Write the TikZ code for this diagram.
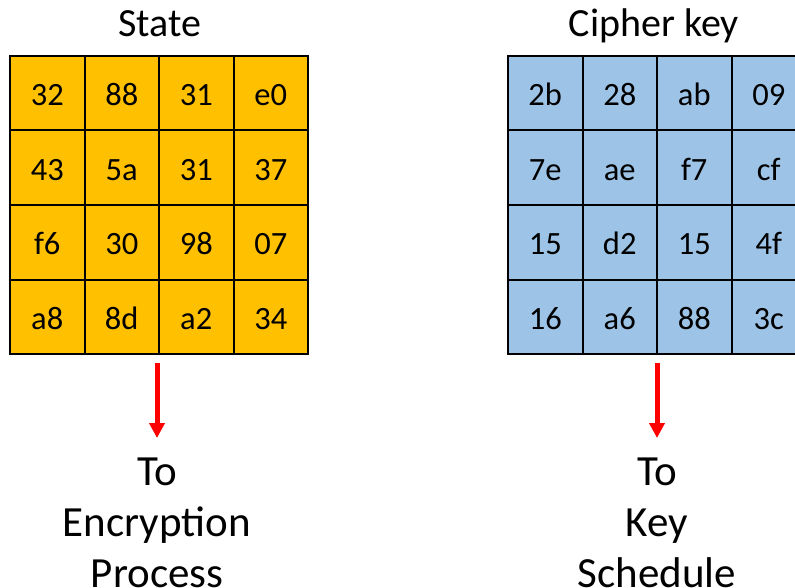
\documentclass[tikz,border=0pt]{standalone}
\usepackage{fontspec}
\setmainfont{Carlito}
\usetikzlibrary{arrows.meta}
\definecolor{stateorange}{HTML}{FFC000}
\definecolor{keyblue}{HTML}{9DC3E6}
\definecolor{arrowred}{HTML}{FF0000}
\begin{document}
\begin{tikzpicture}[x=1pt,y=-1pt,
  cell/.style={draw=black, line width=2pt, minimum size=74.5pt, inner sep=0pt, outer sep=0pt,
    text height=25pt, text depth=0pt, font=\fontsize{32.5}{38}\selectfont},
  statecell/.style={cell, fill=stateorange},
  keycell/.style={cell, fill=keyblue},
  gridborder/.style={draw=black, line width=2.6pt},
  title/.style={font=\fontsize{40}{48}\selectfont, inner sep=0pt, anchor=base},
  dest/.style={font=\fontsize{43}{51}\selectfont, inner sep=0pt, anchor=north, align=center},
  redarrow/.style={draw=arrowred, line width=5pt, -{Triangle[width=15pt,length=15pt]}}
]
\useasboundingbox (0,0) rectangle (795,588);
\clip (0,0) rectangle (795,588);

% titles
\node[title] (statetitle) at (160,37) {State};
\node[title] (keytitle) at (654,37) {Cipher key};

% state grid
\foreach \r/\row in {1/{32,88,31,e0},2/{43,5a,31,37},3/{f6,30,98,07},4/{a8,8d,a2,34}}{
  \foreach \v [count=\c] in \row {
    \node[statecell] (s-\r-\c) at ({10+74.5*(\c-0.5)},{56+74.5*(\r-0.5)}) {\v};
  }
}
\draw[gridborder] (s-1-1.north west) rectangle (s-4-4.south east);

% key grid
\foreach \r/\row in {1/{2b,28,ab,09},2/{7e,ae,f7,cf},3/{15,d2,15,4f},4/{16,a6,88,3c}}{
  \foreach \v [count=\c] in \row {
    \node[keycell] (k-\r-\c) at ({508+74.5*(\c-0.5)},{56+74.5*(\r-0.5)}) {\v};
  }
}
\draw[gridborder] (k-1-1.north west) rectangle (k-4-4.south east);

% destinations
\node[dest] (enc) at (157,458) {To\\Encryption\\Process};
\node[dest] (sched) at (657,458) {To\\Key\\Schedule};

% arrows
\draw[redarrow, shorten <=9pt, shorten >=20pt] (enc.north |- s-4-2.south) -- (enc.north);
\draw[redarrow, shorten <=9pt, shorten >=20pt] (sched.north |- k-4-2.south) -- (sched.north);
\end{tikzpicture}
\end{document}
